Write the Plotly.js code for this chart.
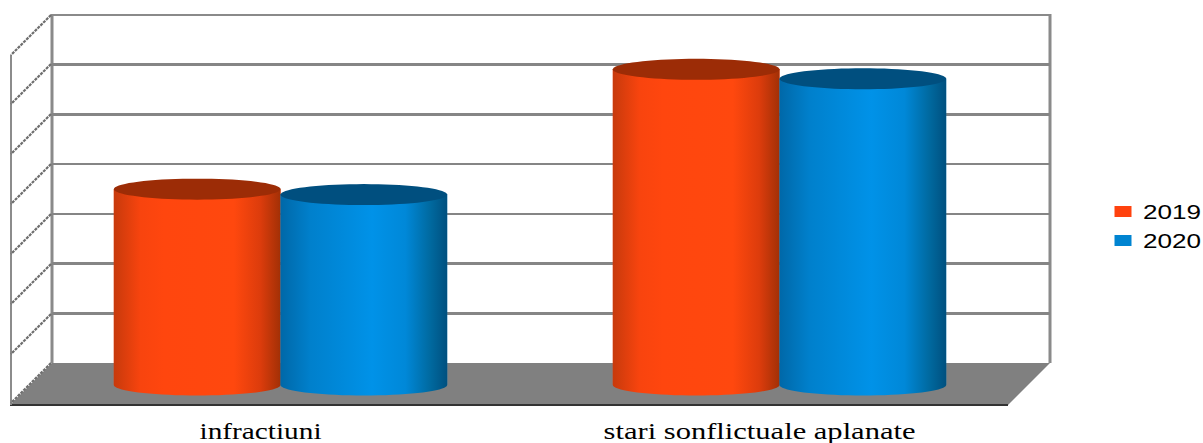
<!DOCTYPE html>
<html><head><meta charset="utf-8">
<script src="https://cdn.plot.ly/plotly-3.0.1.min.js"></script>
<style>html,body{margin:0;padding:0;background:#fff;overflow:hidden}</style>
</head><body><div id="chart" style="width:1203px;height:443px"></div>
<script>
const categories = ["infractiuni", "stari sonflictuale aplanate"];
const values2019 = [39.4, 63.5];
const values2020 = [38.3, 61.6];
const seriesNames = ["2019", "2020"];
const seriesColors = ["#ff420e", "#0084d1"];
const topColors = ["#9c2c06", "#004f7f"];
const gradients = [
  [[0,"#c73a0c"],[0.16,"#f8440e"],[0.3,"#ff460e"],[0.72,"#ff480e"],[0.88,"#dc3c0c"],[1,"#a23006"]],
  [[0,"#0068a8"],[0.18,"#0080cc"],[0.55,"#0092e8"],[0.75,"#0088d8"],[0.9,"#00699f"],[1,"#00507f"]]
];
const W = 1203, H = 443;
const px = x => x / W, py = y => 1 - y / H;
const unit = 348 / 70;           // pixels per value unit
const barW = 0.334, ryUnits = 10.5 / unit;
const labelShift = -0.04;        // labels sit on the front edge of the floor
const angles = Array.from({length: 73}, (_, i) => i * 5 * Math.PI / 180);

const traces = [
  {type: "scatter", mode: "none", x: [0], y: [0], xaxis: "x", yaxis: "y", showlegend: false, hoverinfo: "skip"}
];
[values2019, values2020].forEach((vals, s) => {
  traces.push({type: "bar", name: seriesNames[s], x: [0, 1], y: vals, xaxis: "x2", yaxis: "y2",
    width: barW, offset: s === 0 ? -barW : 0, marker: {color: seriesColors[s], line: {width: 0}}, hoverinfo: "skip"});
});
[values2019, values2020].forEach((vals, s) => {
  vals.forEach((v, c) => {
    const xc = c + (s === 0 ? -barW / 2 : barW / 2), rx = barW / 2;
    const half = angles.filter(a => a <= Math.PI + 1e-6);
    traces.push({type: "scatter", mode: "none", showlegend: false, hoverinfo: "skip", xaxis: "x2", yaxis: "y2",
      x: [xc - rx, xc + rx].concat(half.map(a => xc + rx * Math.cos(a))).concat([xc - rx]),
      y: [v, v].concat(half.map(a => -ryUnits * Math.sin(a))).concat([v]),
      fill: "toself", fillgradient: {type: "horizontal", colorscale: gradients[s]}});
    traces.push({type: "scatter", mode: "none", showlegend: false, hoverinfo: "skip", xaxis: "x2", yaxis: "y2",
      x: angles.map(a => xc + rx * Math.cos(a)),
      y: angles.map(a => v + ryUnits * Math.sin(a)),
      fill: "toself", fillcolor: topColors[s]});
  });
});

const line = (x0, y0, x1, y1, color, width, dash) => ({type: "line", xref: "paper", yref: "paper", layer: "below",
  x0: px(x0), y0: py(y0), x1: px(x1), y1: py(y1), line: {color, width, dash: dash || "solid"}});
const shapes = [
  {type: "path", xref: "paper", yref: "paper", layer: "below", line: {width: 0}, fillcolor: "#808080",
   path: `M${px(52)},${py(363)}L${px(1050)},${py(363)}L${px(1008)},${py(405)}L${px(10)},${py(405)}Z`},
  line(10, 405, 1008, 405, "#333333", 2),
  line(52, 14, 52, 363, "#8a8a8a", 3),
  line(1050, 14, 1050, 363, "#8a8a8a", 3),
  line(52, 15, 1050, 15, "#8a8a8a", 2),
  line(11, 55, 11, 405, "#8c8c8c", 2)
];
[15, 64, 114, 164, 214, 264, 314, 363].forEach(y => shapes.push(line(51, y, 11, y + 40, "#6e6e6e", 2.2, "3px,1px")));

const layout = {
  width: W, height: H, margin: {l: 0, r: 0, t: 0, b: 0, pad: 0},
  paper_bgcolor: "#ffffff", plot_bgcolor: "rgba(0,0,0,0)",
  barmode: "overlay", shapes,
  xaxis: {domain: [px(52), px(1050)], range: [0, 1], visible: false, fixedrange: true},
  yaxis: {domain: [py(363), py(15)], range: [0, 70], dtick: 10, tick0: 0, showgrid: true, gridcolor: "#858585", gridwidth: 2.5,
          showticklabels: false, ticks: "", zeroline: false, showline: false, fixedrange: true},
  xaxis2: {domain: [px(31), px(1029)], range: [-0.5, 1.5], anchor: "y2", tickmode: "array",
           tickvals: [0 + labelShift, 1 + labelShift], ticktext: categories,
           showgrid: false, zeroline: false, showline: false, ticks: "outside", ticklen: 9, tickcolor: "rgba(0,0,0,0)",
           tickfont: {family: "Liberation Serif", size: 23, color: "#000000"}, fixedrange: true},
  yaxis2: {domain: [py(401), py(37)], range: [-16 / unit, 70], anchor: "x2", showgrid: false, zeroline: false, showline: false,
           showticklabels: false, ticks: "", fixedrange: true},
  showlegend: true,
  legend: {x: px(1103), y: py(192), xanchor: "left", yanchor: "top", bgcolor: "rgba(0,0,0,0)", itemwidth: 30,
           entrywidth: 66, entrywidthmode: "pixels",
           font: {family: "Liberation Sans", size: 20, color: "#000000"}, tracegroupgap: 0}
};

Plotly.newPlot("chart", traces, layout, {staticPlot: true, displayModeBar: false}).then(() => {
  const lengths = {"infractiuni": 122, "stari sonflictuale aplanate": 312};
  document.querySelectorAll(".x2tick text, .xtick text").forEach(t => {
    const len = lengths[t.textContent];
    if (len) { t.setAttribute("textLength", len); t.setAttribute("lengthAdjust", "spacingAndGlyphs"); }
  });
  document.querySelectorAll(".legendtext").forEach(t => {
    t.setAttribute("textLength", 58); t.setAttribute("lengthAdjust", "spacingAndGlyphs");
  });
  document.querySelectorAll(".legendpoints path").forEach(p => p.setAttribute("d", "M8.5,5.5H-8.5V-5.5H8.5Z"));
  document.querySelectorAll(".legend .scrollbox, .legend clipPath").forEach(e => e.removeAttribute("clip-path"));
  document.querySelectorAll(".legend [clip-path]").forEach(e => e.removeAttribute("clip-path"));
  document.querySelectorAll(".legend").forEach(e => e.style.clipPath = "none");
});
</script></body></html>
